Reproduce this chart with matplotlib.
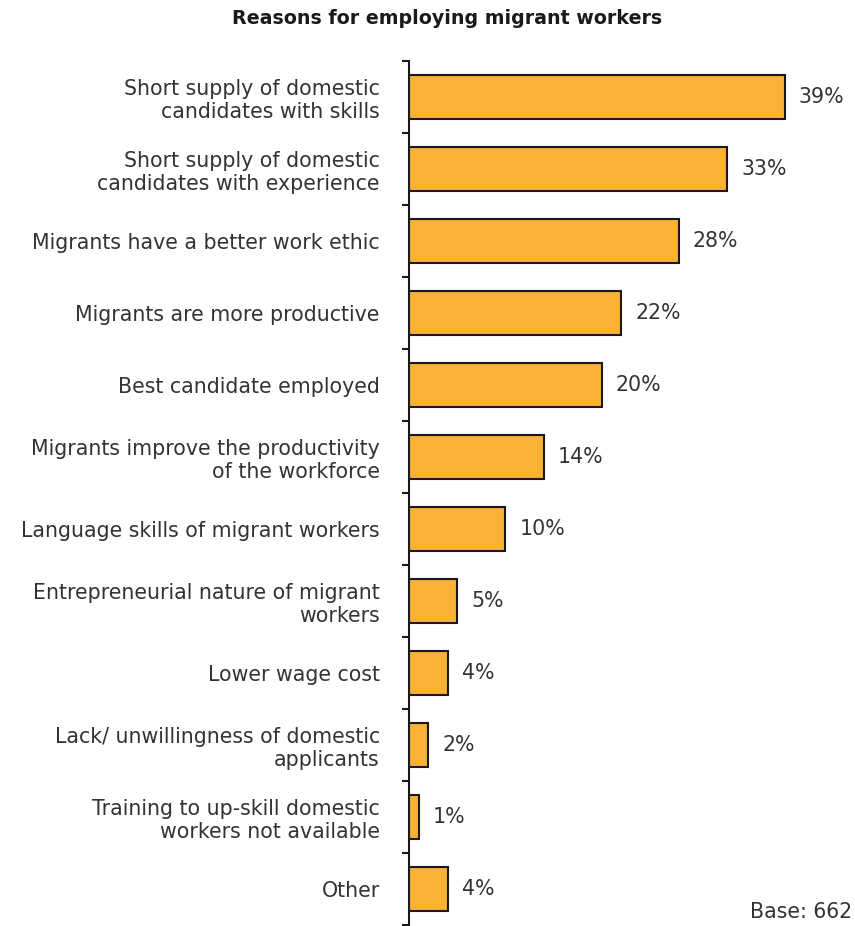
import matplotlib
matplotlib.use("Agg")
import matplotlib.pyplot as plt
import numpy as np

reasons = [
    "Short supply of domestic\ncandidates with skills",
    "Short supply of domestic\ncandidates with experience",
    "Migrants have a better work ethic",
    "Migrants are more productive",
    "Best candidate employed",
    "Migrants improve the productivity\nof the workforce",
    "Language skills of migrant workers",
    "Entrepreneurial nature of migrant\nworkers",
    "Lower wage cost",
    "Lack/ unwillingness of domestic\napplicants",
    "Training to up-skill domestic\nworkers not available",
    "Other",
]
shares = [39, 33, 28, 22, 20, 14, 10, 5, 4, 2, 1, 4]

TEXT = "#333333"
BAR = "#F9B233"
FS = 14.8

plt.rcParams["font.family"] = ["DejaVu Sans"]

fig = plt.figure(figsize=(8.55, 9.26), dpi=100)
ax = fig.add_axes([409 / 855, 1 / 926, (855 - 409) / 855, 864 / 926])

y = np.arange(len(reasons))
ax.barh(y, shares, height=0.61, color=BAR, edgecolor="#1a1a1a", linewidth=1.5)

for yi, v in zip(y, shares):
    ax.text(v + 1.45, yi, f"{v}%", va="center", ha="left", fontsize=FS, color=TEXT)

ax.set_xlim(0, (855 - 409) / 9.64)
ax.set_ylim(len(reasons) - 0.5, -0.5)

# category labels sit between the boundary ticks
ax.set_yticks(y)
ax.set_yticklabels(reasons, fontsize=FS, color=TEXT, linespacing=1.2)
ax.tick_params(axis="y", which="major", length=0, pad=21)
ax.set_yticks(np.arange(-0.5, len(reasons)), minor=True)
ax.tick_params(axis="y", which="minor", length=5, width=1.5, color="#1a1a1a")
ax.set_xticks([])

for side in ["top", "right", "bottom"]:
    ax.spines[side].set_visible(False)
ax.spines["left"].set_linewidth(1.5)
ax.spines["left"].set_color("#1a1a1a")

fig.text(447 / 855, 1 - 18 / 926, "Reasons for employing migrant workers",
         ha="center", va="center", fontsize=13.7, fontweight="bold", color="#1a1a1a")
fig.text(852 / 855, 1 - 912 / 926, "Base: 662", ha="right", va="center",
         fontsize=FS, color=TEXT)

fig.savefig("out.png", dpi=100, facecolor="white")
